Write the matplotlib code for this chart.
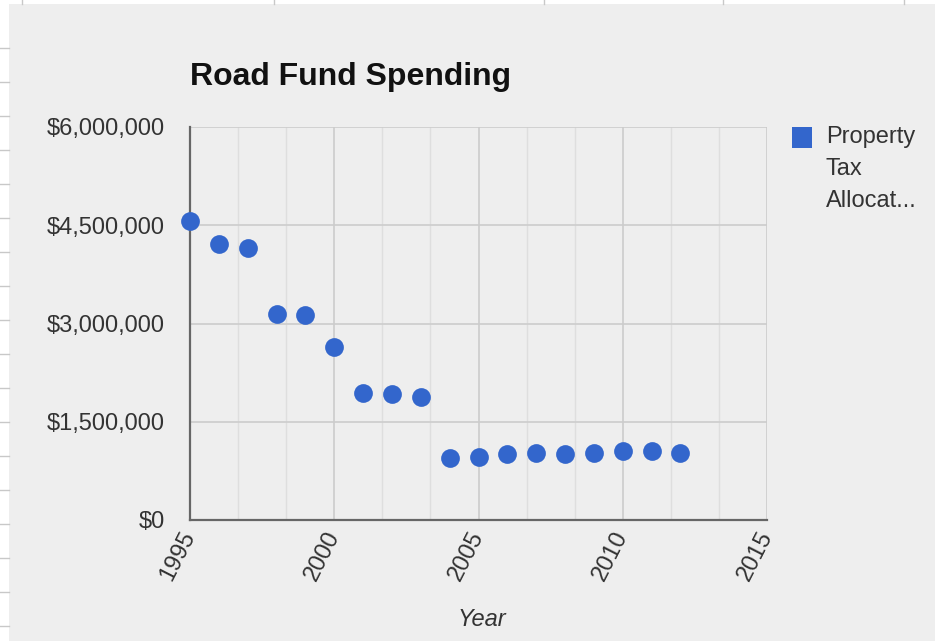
import matplotlib
matplotlib.use("Agg")
import matplotlib.pyplot as plt
from matplotlib.lines import Line2D
from matplotlib.patches import Rectangle
from matplotlib.ticker import FuncFormatter, MultipleLocator

# ---- data ----
years = [1995, 1996, 1997, 1998, 1999, 2000, 2001, 2002, 2003,
         2004, 2005, 2006, 2007, 2008, 2009, 2010, 2011, 2012]
spending = [4570000, 4210000, 4160000, 3150000, 3130000, 2640000,
            1940000, 1930000, 1880000, 940000, 960000, 1010000,
            1020000, 1010000, 1020000, 1060000, 1050000, 1020000]
legend_lines = ["Property", "Tax", "Allocat..."]
x_ticks = [1995, 2000, 2005, 2010, 2015]
y_ticks = [0, 1500000, 3000000, 4500000, 6000000]
title = "Road Fund Spending"
x_title = "Year"

plt.rcParams["font.family"] = ["Liberation Sans", "DejaVu Sans"]

W, H = 935, 641
fig = plt.figure(figsize=(W / 100, H / 100), dpi=100, facecolor="white")


def fx(px):
    return px / W


def fy(py):
    return 1 - py / H


# chart background (spreadsheet embedded chart)
fig.patches.append(Rectangle((fx(9), 0), 1 - fx(9), fy(4), transform=fig.transFigure,
                             facecolor="#eeeeee", edgecolor="none", zorder=-10))
# spreadsheet cell lines peeking out
for yy in range(48, 641, 34):
    fig.add_artist(Line2D([0, fx(9)], [fy(yy), fy(yy)], transform=fig.transFigure,
                          color="#c8c8c8", lw=1, zorder=-5))
for xx in [22, 274, 544, 723, 904]:
    fig.add_artist(Line2D([fx(xx), fx(xx)], [1, fy(4)], transform=fig.transFigure,
                          color="#c8c8c8", lw=1, zorder=-5))

ax = fig.add_axes([fx(190), fy(520), fx(767) - fx(190), fy(127) - fy(520)])
ax.set_zorder(1)
ax.set_facecolor("none")
ax.set_xlim(1995, 2015)
ax.set_ylim(0, 6000000)

ax.scatter(years, spending, s=13.5 ** 2, color="#3366cc", linewidths=0,
           zorder=5, clip_on=False)

ax.set_xticks(x_ticks)
ax.xaxis.set_minor_locator(MultipleLocator(5 / 3))
ax.set_yticks(y_ticks)
ax.yaxis.set_major_formatter(FuncFormatter(lambda v, p: f"${v:,.0f}"))

ax.grid(True, which="major", color="#cccccc", lw=1.2)
ax.grid(True, which="minor", axis="x", color="#dedede", lw=1.0)
ax.set_axisbelow(True)

for s in ["top", "right"]:
    ax.spines[s].set_visible(False)
for s in ["left", "bottom"]:
    ax.spines[s].set_color("#666666")
    ax.spines[s].set_linewidth(1.6)

ax.tick_params(axis="both", which="both", length=0)
ax.tick_params(axis="y", pad=18, labelsize=17, labelcolor="#333333")
ax.tick_params(axis="x", pad=9, labelsize=17, labelcolor="#333333")
for lbl in ax.get_xticklabels():
    lbl.set_rotation(63)
    lbl.set_rotation_mode("anchor")
    lbl.set_ha("right")
    lbl.set_va("center")

# title
fig.text(fx(190), fy(85), title, fontsize=23, fontweight="bold", color="#111111",
         ha="left", va="baseline")
# x axis title
fig.text(fx(482), fy(620), x_title, fontsize=17, fontstyle="italic", color="#333333",
         ha="center", va="center")

# legend
fig.patches.append(Rectangle((fx(792), fy(148)), fx(812) - fx(792), fy(127) - fy(148),
                             transform=fig.transFigure, facecolor="#3366cc",
                             edgecolor="none"))
for i, line in enumerate(legend_lines):
    fig.text(fx(826), fy(137 + 32 * i), line, fontsize=17, color="#333333",
             ha="left", va="center")

fig.savefig("out.png", dpi=100, facecolor="white")
